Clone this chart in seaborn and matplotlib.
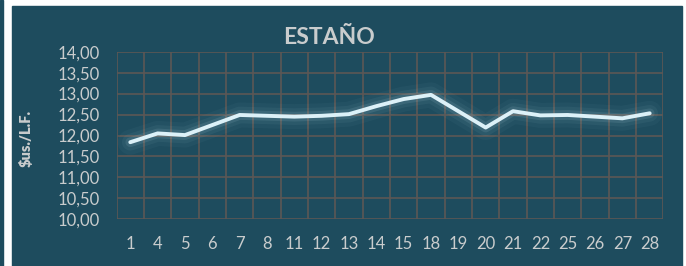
import matplotlib
matplotlib.use("Agg")
import matplotlib.pyplot as plt
import matplotlib.patheffects as pe
from matplotlib.patches import Rectangle
from matplotlib.ticker import FuncFormatter, MultipleLocator
import numpy as np
import pandas as pd
import seaborn as sns

# days of the month and tin price
days = ["1", "4", "5", "6", "7", "8", "11", "12", "13", "14",
        "15", "18", "19", "20", "21", "22", "25", "26", "27", "28"]
prices = [11.84, 12.05, 12.01, 12.25, 12.49, 12.47, 12.45, 12.47, 12.51, 12.70,
          12.87, 12.97, 12.58, 12.19, 12.58, 12.48, 12.49, 12.45, 12.41, 12.53]

bg = "#1e4c5e"
grid_col = "#5c5755"
text_col = "#c9cccd"
line_col = "#dcf1f8"

df = pd.DataFrame({"pos": np.arange(len(days)), "price": prices})

sns.set_style("dark")
plt.rcParams["font.family"] = ["Lato", "DejaVu Sans"]

fig = plt.figure(figsize=(6.86, 2.66), dpi=100, facecolor="white")
# dark panel and the strip on the left edge
fig.patches.append(Rectangle((12 / 686, 0), 670 / 686, 260 / 266,
                             transform=fig.transFigure, color=bg, zorder=-2))
fig.patches.append(Rectangle((0, 0), 3 / 686, 1,
                             transform=fig.transFigure, color=bg, zorder=-2))

ax = fig.add_axes([0.170, 0.1756, 0.797, 0.630])
ax.set_zorder(1)
ax.set_facecolor(bg)

sns.lineplot(data=df, x="pos", y="price", ax=ax, color=line_col, linewidth=2.8,
             solid_joinstyle="round", solid_capstyle="round", zorder=5,
             path_effects=[pe.Stroke(linewidth=18, foreground="#8fb8c6", alpha=0.05),
                           pe.Stroke(linewidth=12, foreground="#9fc6d2", alpha=0.07),
                           pe.Stroke(linewidth=7, foreground="#b0d4de", alpha=0.12),
                           pe.Normal()])

ax.set_xlim(-0.5, len(days) - 0.5)
ax.set_ylim(10, 14)
ax.set_xticks(np.arange(len(days)))
ax.set_xticklabels(days)
ax.set_xticks(np.arange(len(days) + 1) - 0.5, minor=True)
ax.yaxis.set_major_locator(MultipleLocator(0.5))
ax.yaxis.set_major_formatter(FuncFormatter(lambda v, p: f"{v:.2f}".replace(".", ",")))

ax.grid(False)
ax.grid(True, which="minor", axis="x", color=grid_col, linewidth=1.2)
ax.grid(True, which="major", axis="y", color=grid_col, linewidth=1.2)
ax.tick_params(axis="both", which="both", length=0, colors=text_col, labelsize=12)
ax.tick_params(axis="x", pad=12)
ax.tick_params(axis="y", pad=12)
for s in ax.spines.values():
    s.set_visible(False)

ax.set_xlabel("")
ax.set_ylabel("\\$us./L.F.", color=text_col, fontsize=10.5, fontweight="heavy")
ax.yaxis.set_label_coords(-0.153, 0.485)
fig.text(0.48, 0.86, "ESTAÑO", color=text_col, fontsize=16.5, fontweight="bold",
         ha="center", va="center")

fig.savefig("out.png", dpi=100, facecolor="white")
